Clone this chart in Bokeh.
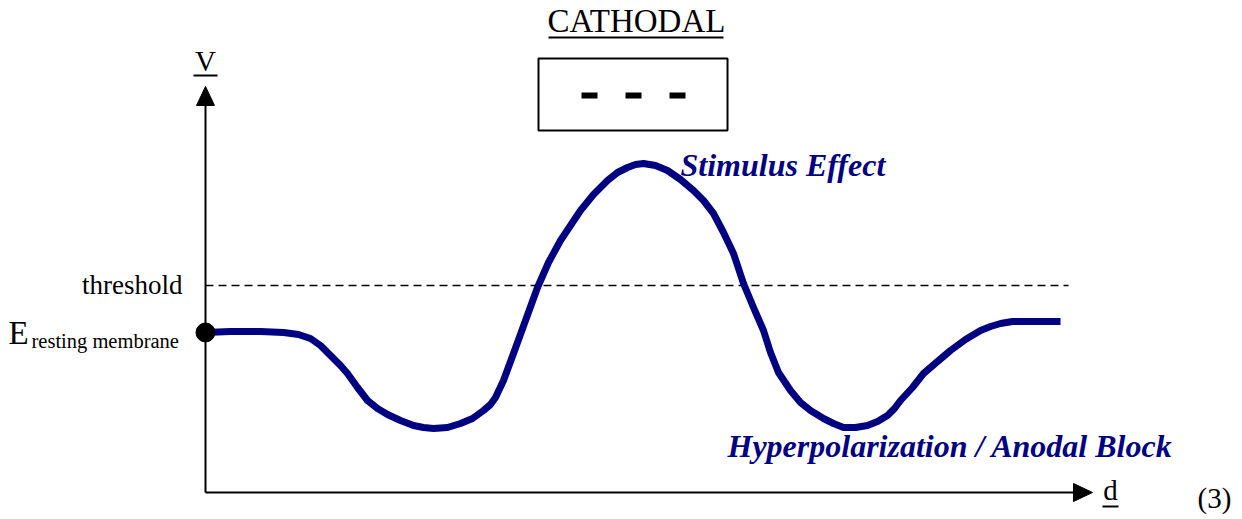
from bokeh.plotting import figure
from bokeh.models import Range1d
from bokeh.core.properties import value
from bokeh.embed import file_html
from bokeh.resources import INLINE

# ---- data (image-pixel coordinate system: x to the right, y downward) ----
curve_d = [205, 230, 260, 283, 298, 310, 320, 330, 340, 347, 357, 367, 377, 387,
           400, 413, 423, 433, 447, 460, 472, 483, 490, 495, 503, 513, 525, 537,
           548, 560, 570, 580, 593, 607, 617, 627, 635, 643, 655, 667, 680, 693,
           703, 713, 723, 733, 743, 753, 763, 770, 778, 790, 800, 810, 823, 833,
           843, 855, 867, 877, 887, 894, 900, 912, 923, 937, 950, 965, 980, 990,
           1000, 1012, 1023, 1060]
curve_v = [332, 331, 331, 332, 334, 338, 345, 355, 365, 373, 387, 400, 408, 414,
           420, 425, 427, 428, 427, 423, 418, 410, 404, 397, 380, 353, 320, 287,
           262, 240, 225, 210, 194, 180, 172, 167, 164, 163, 165, 170, 179, 190,
           200, 213, 232, 253, 283, 307, 330, 352, 372, 390, 402, 410, 418, 423,
           427, 427, 425, 421, 415, 408, 400, 387, 373, 361, 350, 339, 330, 326,
           323, 321, 321, 321]

threshold_v = 285
resting_v = 332
axis_origin = (205, 492)
axis_x_end = 1075
axis_y_end = 104

box_x = [538, 727]
box_y = [58, 130]
minus_x = [589, 633, 677]
minus_y = 95

SERIF = value("Liberation Serif")
NAVY = "#000080"

p = figure(width=1242, height=519, output_backend="svg", toolbar_location=None,
           x_range=Range1d(0, 1242), y_range=Range1d(519, 0), min_border=0)
p.axis.visible = False
p.grid.visible = False
p.outline_line_color = None
p.background_fill_color = "white"
p.border_fill_color = "white"

ox, oy = axis_origin
# axes
p.segment(x0=[ox, ox], y0=[oy, oy], x1=[ox, axis_x_end], y1=[axis_y_end, oy],
          line_color="black", line_width=2)
# arrowheads
p.patches(xs=[[ox - 9, ox + 9, ox], [axis_x_end - 2, axis_x_end - 2, axis_x_end + 17]],
          ys=[[axis_y_end + 1, axis_y_end + 1, axis_y_end - 18], [oy - 9, oy + 9, oy]],
          fill_color="black", line_color="black")

# threshold
p.line(x=[ox, 1068], y=[threshold_v, threshold_v], line_color="black",
       line_width=1.5, line_dash="8 5")

# curve
p.line(x=curve_d, y=curve_v, line_color=NAVY, line_width=7, line_join="round")

# resting dot
p.scatter(x=[ox], y=[resting_v], size=19, color="black")

# box with minus signs
p.quad(left=[box_x[0]], right=[box_x[1]], top=[box_y[0]], bottom=[box_y[1]],
       fill_color="white", line_color="black", line_width=2)
p.segment(x0=[m - 8 for m in minus_x], x1=[m + 8 for m in minus_x],
          y0=[minus_y] * 3, y1=[minus_y] * 3, line_color="black", line_width=6)

# texts
p.text(x=[636], y=[20], text=["CATHODAL"], text_font=SERIF, text_font_size="33px",
       text_align="center", text_baseline="alphabetic", text_color="black")
p.segment(x0=[548], x1=[723], y0=[37], y1=[37], line_color="black", line_width=2)

p.text(x=[205], y=[60], text=["V"], text_font=SERIF, text_font_size="29px",
       text_align="center", text_baseline="alphabetic", text_color="black")
p.segment(x0=[193], x1=[217], y0=[75], y1=[75], line_color="black", line_width=2)

p.text(x=[1110], y=[489], text=["d"], text_font=SERIF, text_font_size="29px",
       text_align="center", text_baseline="alphabetic", text_color="black")
p.segment(x0=[1102], x1=[1118], y0=[506], y1=[506], line_color="black", line_width=2)

p.text(x=[1214], y=[497], text=["(3)"], text_font=SERIF, text_font_size="29px",
       text_align="center", text_baseline="alphabetic", text_color="black")

p.text(x=[182], y=[284], text=["threshold"], text_font=SERIF, text_font_size="27px",
       text_align="right", text_baseline="alphabetic", text_color="black")

p.text(x=[8], y=[332], text=["E"], text_font=SERIF, text_font_size="33px",
       text_align="left", text_baseline="alphabetic", text_color="black")
p.text(x=[31], y=[340], text=["resting membrane"], text_font=SERIF, text_font_size="20.5px",
       text_align="left", text_baseline="alphabetic", text_color="black")

p.text(x=[680], y=[164], text=["Stimulus Effect"], text_font=SERIF, text_font_size="32px",
       text_font_style="bold italic", text_align="left", text_baseline="alphabetic",
       text_color=NAVY)
p.text(x=[727], y=[445], text=["Hyperpolarization / Anodal Block"], text_font=SERIF,
       text_font_size="32px", text_font_style="bold italic", text_align="left",
       text_baseline="alphabetic", text_color=NAVY)

open("out.html", "w").write(file_html(p, INLINE))
